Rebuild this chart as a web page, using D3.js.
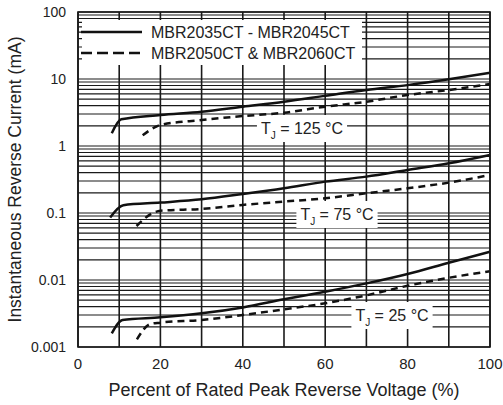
<!DOCTYPE html>
<html>
<head>
<meta charset="utf-8">
<script src="https://cdn.jsdelivr.net/npm/d3@7"></script>
<style>
  body { margin: 0; background: #fff; }
  text { font-family: "Liberation Sans", Arial, sans-serif; fill: #222; }
</style>
</head>
<body>
<div id="chart"></div>
<script>
// axis ticks
const xTicks = [0, 20, 40, 60, 80, 100];
const yTicks = [0.001, 0.01, 0.1, 1, 10, 100];
const legendLabels = ["MBR2035CT - MBR2045CT", "MBR2050CT & MBR2060CT"];
const tempLabels = ["125 °C", "75 °C", "25 °C"];

// percent of rated voltage / current (mA)
const solid125V = [8.2, 10.5, 20, 30, 40, 50, 60, 70, 80, 90, 100];
const solid125I = [1.55, 2.5, 2.9, 3.25, 3.86, 4.58, 5.6, 6.85, 8.1, 9.9, 12.4];
const dashed125V = [15.7, 19, 20, 30, 40, 50, 60, 70, 80, 90, 100];
const dashed125I = [1.45, 1.95, 2.06, 2.44, 2.8, 3.14, 3.86, 4.58, 5.77, 6.85, 8.4];

const solid75V = [7.8, 11, 20, 30, 40, 50, 60, 70, 80, 90, 100];
const solid75I = [0.086, 0.131, 0.143, 0.16, 0.192, 0.234, 0.294, 0.349, 0.439, 0.552, 0.735];
const dashed75V = [14.2, 18.3, 20, 30, 40, 50, 60, 70, 80, 90, 100];
const dashed75I = [0.064, 0.101, 0.108, 0.115, 0.132, 0.148, 0.166, 0.197, 0.234, 0.284, 0.369];

const solid25V = [8.2, 10.8, 20, 30, 40, 50, 60, 70, 80, 90, 100];
const solid25I = [0.0016, 0.00253, 0.00277, 0.00318, 0.0039, 0.00515, 0.00669, 0.0089, 0.0123, 0.0181, 0.0264];
const dashed25V = [14.3, 17.5, 20, 30, 40, 50, 60, 70, 80, 90, 100];
const dashed25I = [0.0013, 0.0022, 0.00231, 0.00253, 0.003, 0.00365, 0.00449, 0.0059, 0.0082, 0.0108, 0.0135];

const width = 503, height = 405;
const margin = {top: 12, right: 13, bottom: 58, left: 78};

const svg = d3.select("#chart").append("svg")
    .attr("width", width)
    .attr("height", height);

const x = d3.scaleLinear().domain([0, 100]).range([margin.left, width - margin.right]);
const y = d3.scaleLog().domain([0.001, 100]).range([height - margin.bottom, margin.top]);

const grid = svg.append("g");

// horizontal log grid: 1..9 in every decade
const minor = [];
yTicks.slice(0, -1).forEach(d => { for (let k = 1; k <= 9; k++) minor.push(d * k); });
minor.push(100);
grid.selectAll(".hline").data(minor).enter().append("line")
    .attr("x1", x(0)).attr("x2", x(100))
    .attr("y1", d => y(d)).attr("y2", d => y(d))
    .attr("stroke", "#1a1a1a").attr("stroke-width", 1.1);

// vertical grid every 10%
grid.selectAll(".vline").data(d3.range(0, 101, 10)).enter().append("line")
    .attr("x1", d => x(d)).attr("x2", d => x(d))
    .attr("y1", y(100)).attr("y2", y(0.001))
    .attr("stroke", "#1a1a1a").attr("stroke-width", 1.6);

// white box behind the legend
svg.append("rect")
    .attr("x", 82).attr("y", 20)
    .attr("width", 280).attr("height", 45)
    .attr("fill", "#fff");

// temperature labels with white boxes
const labelPos = [[302, 128], [337, 214], [392, 315]];
tempLabels.forEach((t, i) => {
    const g = svg.append("g");
    const box = g.append("rect").attr("fill", "#fff");
    const txt = g.append("text")
        .attr("x", labelPos[i][0]).attr("y", labelPos[i][1])
        .attr("dy", "0.35em")
        .attr("text-anchor", "middle")
        .style("font-size", "16px");
    txt.append("tspan").text("T");
    txt.append("tspan").attr("dy", 5).style("font-size", "10px").text("J");
    txt.append("tspan").attr("dy", -5).text(" = " + t);
    const b = txt.node().getBBox();
    box.attr("x", b.x - 4).attr("y", labelPos[i][1] - 13)
        .attr("width", b.width + 8).attr("height", 27);
});

// curves
const line = d3.line()
    .x(d => x(d[0]))
    .y(d => y(d[1]))
    .curve(d3.curveMonotoneX);

const series = [
    [solid125V, solid125I, false], [dashed125V, dashed125I, true],
    [solid75V, solid75I, false], [dashed75V, dashed75I, true],
    [solid25V, solid25I, false], [dashed25V, dashed25I, true]
];
series.forEach(s => {
    svg.append("path")
        .datum(d3.zip(s[0], s[1]))
        .attr("d", line)
        .attr("fill", "none")
        .attr("stroke", "#111")
        .attr("stroke-width", 2.5)
        .attr("stroke-dasharray", s[2] ? "7,5" : null);
});

// frame
svg.append("rect")
    .attr("x", x(0)).attr("y", y(100))
    .attr("width", x(100) - x(0)).attr("height", y(0.001) - y(100))
    .attr("fill", "none").attr("stroke", "#1a1a1a").attr("stroke-width", 1.6);

// legend
const legend = svg.selectAll(".legend").data(legendLabels).enter().append("g")
    .attr("transform", (d, i) => "translate(0," + (32 + i * 21) + ")");
legend.append("line")
    .attr("x1", 81).attr("x2", 142)
    .attr("stroke", "#111").attr("stroke-width", 2.5)
    .attr("stroke-dasharray", (d, i) => i ? "11,5" : null);
legend.append("text")
    .attr("x", 151).attr("dy", "0.35em")
    .style("font-size", "16px")
    .text(d => d);

// tick labels
svg.selectAll(".ylab").data(yTicks).enter().append("text")
    .attr("x", 66).attr("y", d => y(d)).attr("dy", "0.35em")
    .attr("text-anchor", "end")
    .style("font-size", "14px")
    .text(d => d3.format("~g")(d));

svg.selectAll(".xlab").data(xTicks).enter().append("text")
    .attr("x", d => x(d)).attr("y", 364).attr("dy", "0.35em")
    .attr("text-anchor", "middle")
    .style("font-size", "15px")
    .text(d => d);

// axis titles
svg.append("text")
    .attr("x", x(50)).attr("y", 396)
    .attr("text-anchor", "middle")
    .style("font-size", "18px")
    .text("Percent of Rated Peak Reverse Voltage (%)");

svg.append("text")
    .attr("transform", "translate(21," + ((y(100) + y(0.001)) / 2) + ") rotate(-90)")
    .attr("text-anchor", "middle")
    .style("font-size", "17.5px")
    .text("Instantaneous Reverse Current (mA)");
</script>
</body>
</html>
